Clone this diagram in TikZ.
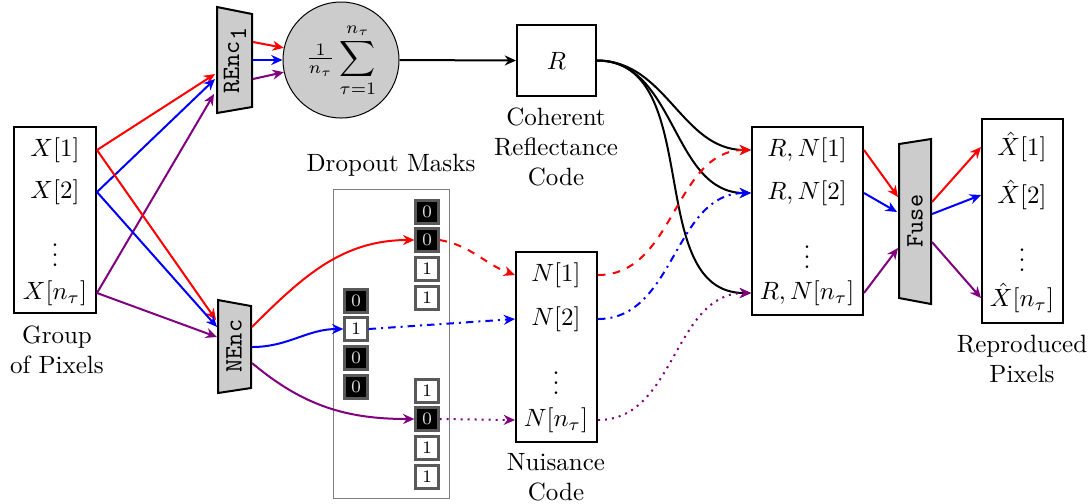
\documentclass[tikz,border=0pt]{standalone}
\usetikzlibrary{arrows.meta,fit,calc}
\colorlet{pur}{violet}
\begin{document}
\begin{tikzpicture}[x=0.4pt,y=-0.4pt,
  box/.style={draw,thick,inner sep=0pt},
  lbl/.style={align=center},
  conn/.style={thick,-{Stealth[length=4.5pt,width=4pt]}},
  encshape/.style={draw,thick,fill=gray!40},
  enctext/.style={rotate=90,font=\ttfamily},
  cellz/.style={draw=black!65,line width=0.9pt,fill=black,text=black!15,font=\scriptsize,minimum size=9.2pt,inner sep=0pt},
  cello/.style={draw=black!65,line width=0.9pt,fill=white,text=black,font=\scriptsize,minimum size=9.2pt,inner sep=0pt}]
\useasboundingbox (0,0) rectangle (1091,503);

% input pixels
\node[box,fit={(14,127)(96,313)}] (X) {};
\node (x1) at (55,150) {$X[1]$};
\node (x2) at (55,192) {$X[2]$};
\node (xd) at (55,248) {$\vdots$};
\node (xn) at (55,293) {$X[n_\tau]$};
\node[lbl] (xl) at (57,350) {Group\\of Pixels};

% REnc
\draw[encshape] (217,7) -- (252,14) -- (252,107) -- (217,113) -- cycle;
\node[enctext] (renc) at (235,60) {REnc$_{\texttt{1}}$};
\coordinate (ri1) at (215,74);
\coordinate (ri2) at (215,79);
\coordinate (ri3) at (214,94);
\coordinate (ro1) at (253,42);
\coordinate (ro2) at (253,60);
\coordinate (ro3) at (253,79);

% NEnc
\draw[encshape] (218,300) -- (251,306) -- (251,388) -- (218,393) -- cycle;
\node[enctext] (nenc) at (234,346) {NEnc};
\coordinate (ni1) at (216,320);
\coordinate (ni2) at (217,327);
\coordinate (ni3) at (217,337);
\coordinate (no1) at (252,327);
\coordinate (no2) at (252,347);
\coordinate (no3) at (252,363);

% average
\node[draw,circle,fill=gray!40,minimum size=46.4pt,inner sep=0pt] (avg) at (341,60)
  {$\frac{1}{n_\tau}\displaystyle\sum_{\tau=1}^{n_\tau}$};

% R
\node[box,fit={(517,25)(596,96)}] (R) {};
\node (Rt) at (R.center) {$R$};
\node[lbl] (Rl) at (556,147) {Coherent\\Reflectance\\Code};

% dropout masks
\node (dm) at (391,165) {Dropout Masks};
\node[draw=black!50,fit={(333,189)(449,498)},inner sep=0pt] (dbox) {};
\node[cellz] (ma1) at (427,212) {0};
\node[cellz] (ma2) at (427,240) {0};
\node[cello] (ma3) at (427,269) {1};
\node[cello] (ma4) at (427,298) {1};
\node[cellz] (mb1) at (356,301) {0};
\node[cello] (mb2) at (356,329) {1};
\node[cellz] (mb3) at (356,358) {0};
\node[cellz] (mb4) at (356,387) {0};
\node[cello] (mc1) at (427,391) {1};
\node[cellz] (mc2) at (427,419) {0};
\node[cello] (mc3) at (427,448) {1};
\node[cello] (mc4) at (427,477) {1};

% N
\node[box,fit={(516,252)(597,442)}] (N) {};
\node (n1) at (556,275) {$N[1]$};
\node (n2) at (556,319) {$N[2]$};
\node (nd) at (556,376) {$\vdots$};
\node (nn) at (556,420) {$N[n_\tau]$};
\node[lbl] (Nl) at (556,477) {Nuisance\\Code};

% RN
\node[box,fit={(752,127)(863,315)}] (RN) {};
\node (rn1) at (807,150) {$R,N[1]$};
\node (rn2) at (807,193) {$R,N[2]$};
\node (rnd) at (807,250) {$\vdots$};
\node (rnn) at (807,293) {$R,N[n_\tau]$};

% Fuse
\draw[encshape] (899,144) -- (931,139) -- (931,304) -- (899,298) -- cycle;
\node[enctext] (fuse) at (915,221) {Fuse};
\coordinate (fi1) at (898,197);
\coordinate (fi2) at (897,212);
\coordinate (fi3) at (898,248);
\coordinate (fo1) at (932,202);
\coordinate (fo2) at (932,214);
\coordinate (fo3) at (932,242);

% Xhat
\node[box,fit={(982,119)(1063,323)}] (Y) {};
\node (y1) at (1022,147) {$\hat{X}[1]$};
\node (y2) at (1022,195) {$\hat{X}[2]$};
\node (yd) at (1022,253) {$\vdots$};
\node (yn) at (1022,298) {$\hat{X}[n_\tau]$};
\node[lbl] (Yl) at (1022,359) {Reproduced\\Pixels};

% X -> REnc / NEnc
\draw[conn,red] (X.east |- x1) -- (ri1);
\draw[conn,blue] (X.east |- x2) -- (ri2);
\draw[conn,pur] (X.east |- xn) -- (ri3);
\draw[conn,red] (X.east |- x1) -- (ni1);
\draw[conn,blue] (X.east |- x2) -- (ni2);
\draw[conn,pur] (X.east |- xn) -- (ni3);

% REnc -> avg -> R
\draw[conn,red] (ro1) -- (avg.168);
\draw[conn,blue] (ro2) -- (avg.180);
\draw[conn,pur] (ro3) -- (avg.192);
\draw[conn] (avg.east) -- (R.west);

% NEnc -> masks
\draw[conn,red] (no1) to[out=45,in=180] (ma2.west);
\draw[conn,blue] (no2) to[out=0,in=180] (mb2.west);
\draw[conn,pur] (no3) to[out=-40,in=180] (mc2.west);

% masks -> N
\draw[conn,red,dashed] (ma2.east) to[out=-10,in=160] (N.west |- n1);
\draw[conn,blue,dash dot] (mb2.east) -- (N.west |- n2);
\draw[conn,pur,dotted] (mc2.east) -- (N.west |- nn);

% R, N -> RN
\draw[conn] (R.east) to[out=0,in=180] (RN.west |- rn1);
\draw[conn] (R.east) to[out=0,in=180] (RN.west |- rn2);
\draw[conn] (R.east) to[out=0,in=180] (RN.west |- rnn);
\draw[conn,red,dashed] (N.east |- n1) to[out=0,in=180] (RN.west |- rn1);
\draw[conn,blue,dash dot] (N.east |- n2) to[out=0,in=180] (RN.west |- rn2);
\draw[conn,pur,dotted] (N.east |- nn) to[out=0,in=180] (RN.west |- rnn);

% RN -> Fuse -> Xhat
\draw[conn,red] (RN.east |- rn1) -- (fi1);
\draw[conn,blue] (RN.east |- rn2) -- (fi2);
\draw[conn,pur] (RN.east |- rnn) -- (fi3);
\draw[conn,red] (fo1) -- (Y.west |- y1);
\draw[conn,blue] (fo2) -- (Y.west |- y2);
\draw[conn,pur] (fo3) -- (Y.west |- yn);
\end{tikzpicture}
\end{document}
